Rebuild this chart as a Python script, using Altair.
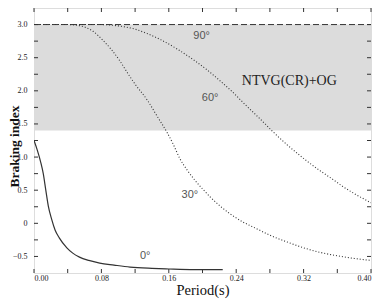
import altair as alt
import pandas as pd

# ---- data ----
x_label_ticks = [0.0, 0.08, 0.16, 0.24, 0.32, 0.40]
x_minor_ticks = [0.0, 0.04, 0.08, 0.12, 0.16, 0.20, 0.24, 0.28, 0.32, 0.36, 0.40]
y_label_ticks = [-0.5, 0.0, 0.5, 1.0, 1.5, 2.0, 2.5, 3.0]
y_minor_ticks = [-0.5, -0.25, 0.0, 0.25, 0.5, 0.75, 1.0, 1.25, 1.5, 1.75,
                 2.0, 2.25, 2.5, 2.75, 3.0]

p0 = [0.0, 0.004, 0.008, 0.011, 0.014, 0.017, 0.021, 0.025, 0.030, 0.039,
      0.046, 0.054, 0.065, 0.078, 0.095, 0.114, 0.140, 0.160, 0.190, 0.224]
b0 = [1.25, 1.10, 0.92, 0.75, 0.50, 0.26, 0.06, -0.10, -0.22, -0.37,
      -0.45, -0.51, -0.56, -0.60, -0.63, -0.66, -0.68, -0.69, -0.70, -0.70]

p30 = [0.0, 0.04, 0.055, 0.070, 0.082, 0.092, 0.102, 0.111, 0.120, 0.135,
       0.146, 0.158, 0.165, 0.173, 0.182, 0.191, 0.200, 0.209, 0.220, 0.232,
       0.248, 0.264, 0.280, 0.300, 0.320, 0.340, 0.360, 0.380, 0.400]
b30 = [3.0, 3.0, 2.98, 2.90, 2.76, 2.62, 2.45, 2.27, 2.10, 1.85,
       1.62, 1.37, 1.20, 0.98, 0.80, 0.65, 0.52, 0.40, 0.27, 0.15,
       0.02, -0.08, -0.18, -0.28, -0.37, -0.44, -0.49, -0.53, -0.56]

p60 = [0.0, 0.08, 0.10, 0.12, 0.135, 0.149, 0.170, 0.189, 0.205, 0.220,
       0.235, 0.250, 0.268, 0.283, 0.300, 0.315, 0.327, 0.340, 0.355, 0.366,
       0.380, 0.400]
b60 = [3.0, 3.0, 2.98, 2.93, 2.86, 2.78, 2.63, 2.47, 2.32, 2.16,
       1.99, 1.80, 1.58, 1.39, 1.19, 1.03, 0.91, 0.79, 0.66, 0.56,
       0.45, 0.31]

p90 = [0.0, 0.40]
b90 = [3.0, 3.0]

shade_x = [0.0]
shade_x2 = [0.40]
shade_y = [1.4]
shade_y2 = [3.0]

angle_text = ["0°", "30°", "60°", "90°"]
angle_x = [0.132, 0.185, 0.209, 0.199]
angle_y = [-0.50, 0.42, 1.89, 2.82]

region_text = ["NTVG(CR)+OG"]
region_x = [0.303]
region_y = [2.15]

W, H = 337, 265
TICK = 4
INK = "#333333"
SERIF = "Liberation Serif"

xscale = alt.Scale(domain=[0, 0.4], nice=False, zero=False)
yscale = alt.Scale(domain=[-0.75, 3.25], nice=False, zero=False)

xaxis = alt.Axis(values=x_label_ticks, format=".2f", ticks=False, domain=False,
                 grid=False, labelFont=SERIF, labelFontSize=8, labelColor="#222222",
                 labelPadding=1, title="Period(s)", titleFont=SERIF,
                 titleFontSize=14.5, titleFontWeight="normal", titleColor="#111111",
                 titleY=21, titleBaseline="alphabetic")
yaxis = alt.Axis(values=y_label_ticks,
                 labelExpr="datum.value == 0 ? '0' : format(datum.value, '.1f')",
                 ticks=False, domain=False, grid=False, labelFont=SERIF,
                 labelFontSize=8, labelColor="#222222", labelPadding=7,
                 title="Braking index", titleFont=SERIF, titleFontSize=13.5,
                 titleFontWeight="bold", titleColor="#111111",
                 titleX=-16, titleY=138, titleAlign="center",
                 titleBaseline="alphabetic", titleAngle=270)

X = lambda f: alt.X(f, type="quantitative", scale=xscale, axis=xaxis)
Y = lambda f: alt.Y(f, type="quantitative", scale=yscale, axis=yaxis)

shade = alt.Chart(pd.DataFrame({"x": shade_x, "x2": shade_x2, "y": shade_y, "y2": shade_y2})).mark_rect(
    color="#dcdcdc").encode(x=X("x"), x2="x2", y=Y("y"), y2="y2")

def curve(px, by, **style):
    return alt.Chart(pd.DataFrame({"p": px, "b": by})).mark_line(
        color=INK, clip=True, interpolate="monotone", **style).encode(x=X("p"), y=Y("b"), order="p:Q")

c0 = curve(p0, b0, strokeWidth=1.2)
c30 = curve(p30, b30, strokeWidth=1.1, strokeDash=[1, 2])
c60 = curve(p60, b60, strokeWidth=1.1, strokeDash=[1, 2])
c90 = curve(p90, b90, strokeWidth=1, strokeDash=[6, 3])

xt = pd.DataFrame({"t": x_minor_ticks})
yt = pd.DataFrame({"t": y_minor_ticks})
tick_b = alt.Chart(xt).mark_rule(color=INK).encode(x=X("t"), y=alt.value(H), y2=alt.value(H - TICK))
tick_t = alt.Chart(xt).mark_rule(color=INK).encode(x=X("t"), y=alt.value(0), y2=alt.value(TICK))
tick_l = alt.Chart(yt).mark_rule(color=INK).encode(y=Y("t"), x=alt.value(0), x2=alt.value(TICK))
tick_r = alt.Chart(yt).mark_rule(color=INK).encode(y=Y("t"), x=alt.value(W), x2=alt.value(W - TICK))

angles = alt.Chart(pd.DataFrame({"x": angle_x, "y": angle_y, "t": angle_text})).mark_text(
    font="Liberation Sans", fontSize=11, color="#555555", align="center", baseline="middle"
).encode(x=X("x"), y=Y("y"), text="t:N")

region = alt.Chart(pd.DataFrame({"x": region_x, "y": region_y, "t": region_text})).mark_text(
    font=SERIF, fontSize=14, color="#222222", align="center", baseline="middle"
).encode(x=X("x"), y=Y("y"), text="t:N")

chart = alt.layer(shade, c0, c30, c60, c90, tick_b, tick_t, tick_l, tick_r, angles, region).properties(
    width=W, height=H,
    autosize=alt.AutoSizeParams(type="none"),
    padding={"left": 26, "top": 0, "right": 3, "bottom": 26},
).configure_view(stroke=INK, strokeWidth=1).configure(background="white")

chart.save("out.html", embed_options={"renderer": "svg", "actions": False})
